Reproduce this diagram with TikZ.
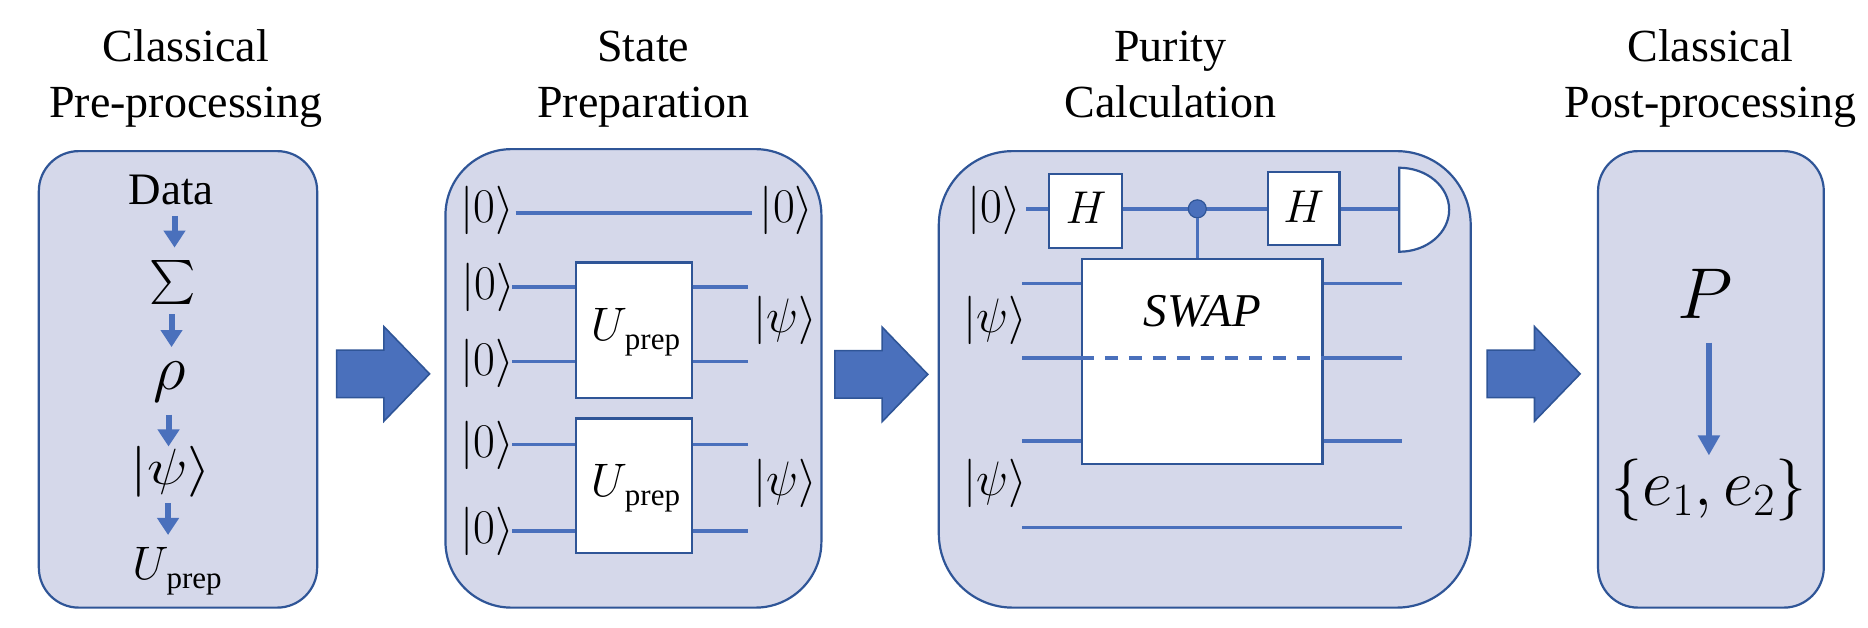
\documentclass[tikz,border=0pt]{standalone}
\usepackage{fix-cm}
\usepackage[no-math]{fontspec}
\setmainfont{Liberation Serif}
\usetikzlibrary{shapes.arrows,arrows.meta}
\definecolor{panelfill}{HTML}{D5D8EA}
\definecolor{edgeblue}{HTML}{2F5597}
\definecolor{wireblue}{HTML}{4A70BC}
\newcommand\fsz[1]{\fontsize{#1}{#1}\selectfont}
\newcommand\Uprep{$U$\kern-1pt\raisebox{-4.5pt}{\fsz{15.5}prep}}
\newcommand\kt[1]{\fsz{22}\scalebox{1.08}[1.1]{$|#1\rangle$}}
\tikzset{
  x=.4973pt,y=-.4973pt,
  panel/.style={draw=edgeblue,fill=panelfill,line width=1.1pt,rectangle,inner sep=0pt},
  gatebox/.style={draw=edgeblue,fill=white,line width=1.1pt,rectangle,inner sep=0pt},
  title/.style={align=center,font=\fsz{23},inner sep=0pt,anchor=base},
  lab/.style={inner sep=0pt,anchor=base},
  ketn/.style={inner sep=0pt,anchor=center},
  wire/.style={draw=wireblue,line width=1.7pt},
  smallarrow/.style={draw=wireblue,line width=3pt,-{Triangle[width=10.5pt,length=8.5pt]}},
  bigarrow/.style={single arrow,draw=edgeblue,fill=wireblue,line width=.8pt,inner sep=11.5pt,
    minimum width=47pt,minimum height=46.5pt,single arrow head extend=11.75pt,
    single arrow tip angle=92,single arrow head indent=0pt,outer sep=0pt,anchor=tip},
}
\begin{document}
\begin{tikzpicture}
\useasboundingbox (0,0) rectangle (1878.5,631.5);
% titles
\node[title] (t1a) at (187,61.5) {Classical};
\node[title] (t1b) at (187,118) {Pre-processing};
\node[title] (t2a) at (647,61.5) {State};
\node[title] (t2b) at (647,118) {Preparation};
% panels
\node[panel,rounded corners=20pt,minimum width=139.2pt,minimum height=228.3pt] (p1) at (179,381.5) {};
\node[panel,rounded corners=33pt,minimum width=188pt,minimum height=229.3pt] (p2) at (637,380.5) {};
% big arrows
\node[bigarrow] (b1) at (432,376) {};
\node[bigarrow] (b2) at (933,376.5) {};
% panel 1
\node[lab,font=\fsz{22.5}] (data) at (172,206) {Data};
\node[ketn] (sig) at (174,284) {\scalebox{2.2}{\fsz{10}$\textstyle\sum$}};
\node[ketn] (rho) at (171,384) {\fsz{32}$\rho$};
\node[ketn] (psi1) at (172,474) {\fsz{26}\scalebox{1.16}[.98]{$|\psi\rangle$}};
\node[lab,font=\fsz{23.5}] (u1) at (178,583) {\Uprep};
\coordinate (a1s) at (175.5,217); \coordinate (a1e) at (175.5,249);
\coordinate (a2s) at (172.5,316); \coordinate (a2e) at (172.5,349);
\coordinate (a3s) at (169.5,417); \coordinate (a3e) at (169.5,449);
\coordinate (a4s) at (169,506);   \coordinate (a4e) at (169,538);
\draw[smallarrow] (a1s) -- (a1e);
\draw[smallarrow] (a2s) -- (a2e);
\draw[smallarrow] (a3s) -- (a3e);
\draw[smallarrow] (a4s) -- (a4e);
% panel 2
\node[ketn] (k1) at (490,212) {\kt{0}};
\node[ketn] (k1r) at (791,212) {\kt{0}};
\node[ketn] (k2) at (491,289) {\kt{0}};
\node[ketn] (k3) at (490,365) {\kt{0}};
\node[ketn] (k4) at (490,448) {\kt{0}};
\node[ketn] (k5) at (490,534) {\kt{0}};
\node[ketn] (k6) at (790,322) {\kt{\psi}};
\node[ketn] (k7) at (790,486) {\kt{\psi}};
\node[gatebox,minimum width=58pt,minimum height=67.6pt] (ua) at (637.2,332) {};
\node[gatebox,minimum width=58pt,minimum height=67.2pt] (ub) at (637.2,488.5) {};
\node[lab,font=\fsz{23.5}] (ula) at (639,342) {\Uprep};
\node[lab,font=\fsz{23.5}] (ulb) at (639,499) {\Uprep};
\coordinate (w1s) at (518.5,214); \coordinate (w1e) at (756,214);
\draw[wire] (w1s) -- (w1e);
\coordinate (w2s) at (515,288.5); \coordinate (w2e) at (752,288.5);
\coordinate (w3s) at (515,363.5); \coordinate (w3e) at (752,363.5);
\coordinate (w4s) at (515,447);   \coordinate (w4e) at (752,447);
\coordinate (w5s) at (515,534);   \coordinate (w5e) at (752,534);
\draw[wire] (w2s) -- (ua.west |- w2s);
\draw[wire] (w3s) -- (ua.west |- w3s);
\draw[wire] (ua.east |- w2e) -- (w2e);
\draw[wire] (ua.east |- w3e) -- (w3e);
\draw[wire] (w4s) -- (ub.west |- w4s);
\draw[wire] (w5s) -- (ub.west |- w5s);
\draw[wire] (ub.east |- w4e) -- (w4e);
\draw[wire] (ub.east |- w5e) -- (w5e);
\begin{scope}[xshift=2.5pt]
\node[title] (t3a) at (1172,61.5) {Purity};
\node[title] (t3b) at (1172,118) {Calculation};
\node[title] (t4a) at (1715,61.5) {Classical};
\node[title] (t4b) at (1715,118) {Post-processing};
\node[panel,rounded corners=37pt,minimum width=266pt,minimum height=228.3pt] (p3) at (1206.5,381.5) {};
\node[panel,rounded corners=20pt,minimum width=112.9pt,minimum height=228.3pt] (p4) at (1715.5,381.5) {};
\node[bigarrow] (b3) at (1584,376) {};
% panel 3
\node[ketn] (q0) at (995,212) {\kt{0}};
\node[ketn] (q1) at (996,322) {\kt{\psi}};
\node[ketn] (q2) at (996,486) {\kt{\psi}};
\coordinate (qs) at (1027,210);
\coordinate (det) at (1402,210);
\draw[wire] (qs) -- (det);
\node[gatebox,minimum width=36.3pt,minimum height=36.8pt] (h1) at (1086.5,212) {};
\node[gatebox,minimum width=35.8pt,minimum height=36.3pt] (h2) at (1306,209.5) {};
\node[lab,font=\fsz{23}] (h1t) at (1087,225) {$H$};
\node[lab,font=\fsz{23}] (h2t) at (1306,224) {$H$};
\draw[draw=edgeblue,fill=white,line width=1.1pt] (1402,168.7) arc[start angle=90,end angle=-90,x radius=25pt,y radius=21pt] -- cycle;
\node[gatebox,minimum width=120.3pt,minimum height=102.7pt] (sw) at (1204,363.75) {};
\node[circle,draw=edgeblue,fill=wireblue,line width=.6pt,minimum size=9pt,inner sep=0pt] (dot) at (1199,210) {};
\draw[wire] (dot) -- (dot |- sw.north);
\node[lab,font=\fsz{23.5}\itshape] (swt) at (1204,328) {SWAP};
\coordinate (l1) at (1023,285);   \coordinate (r1) at (1405,285);
\coordinate (l2) at (1023,360);   \coordinate (r2) at (1405,360);
\coordinate (l3) at (1023,443.5); \coordinate (r3) at (1405,443.5);
\coordinate (l4) at (1023,530.5); \coordinate (r4) at (1405,530.5);
\draw[wire] (l1) -- (sw.west |- l1);
\draw[wire] (l2) -- (sw.west |- l2);
\draw[wire] (l3) -- (sw.west |- l3);
\draw[wire] (sw.east |- r1) -- (r1);
\draw[wire] (sw.east |- r2) -- (r2);
\draw[wire] (sw.east |- r3) -- (r3);
\draw[wire] (l4) -- (r4);
\draw[wire,dash pattern=on 6.5pt off 5.5pt] (sw.west |- l2) -- (sw.east |- r2);
% panel 4
\node[lab,font=\fsz{36}] (pp) at (1710,320) {$P$};
\node[ketn] (ee) at (1713.5,492.7) {\fsz{31}$\{$\fsz{33}$e_1{,}\,e_2$\fsz{31}$\}$};
\coordinate (pa) at (1713.5,344.5); \coordinate (pb) at (1713.5,458);
\draw[smallarrow,line width=3.3pt,-{Triangle[width=10.5pt,length=10pt]}] (pa) -- (pb);
\end{scope}
\end{tikzpicture}
\end{document}
